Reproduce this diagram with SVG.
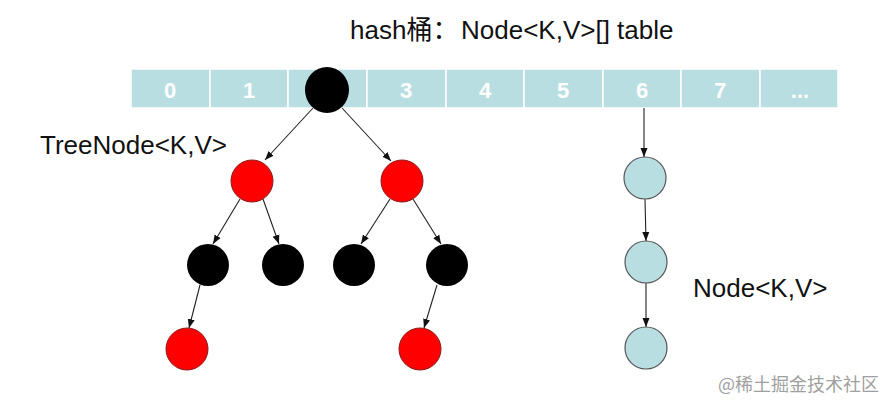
<svg xmlns="http://www.w3.org/2000/svg" width="893" height="409" viewBox="0 0 893 409">
<style>
.cell{fill:#b9dee2;stroke:#ffffff;stroke-width:1.5}
.num{font-family:"Liberation Sans",Arial,sans-serif;font-weight:bold;font-size:22px;fill:#ffffff;text-anchor:middle}
.lbl{font-family:"Liberation Sans","Noto Sans CJK SC",Arial,sans-serif;font-size:26px;fill:#111}
.red{fill:#ff0000;stroke:#8a1a1a;stroke-width:1}
.blk{fill:#000000}
.blu{fill:#b9dee2;stroke:#555;stroke-width:1.2}
.edge{stroke:#222;stroke-width:1.1;fill:none;marker-end:url(#ah)}
</style>
<defs>
<marker id="ah" markerWidth="10" markerHeight="10" refX="9" refY="5" orient="auto" markerUnits="userSpaceOnUse">
<path d="M0,1.5 L9,5 L0,8.5 Z" fill="#111"/>
</marker>
</defs>
<rect width="893" height="409" fill="#ffffff"/>
<text class="lbl" x="350" y="39"><tspan>hash桶：</tspan><tspan x="461">Node&lt;K,V&gt;[] table</tspan></text>
<g id="table">
<rect class="cell" x="131" y="69" width="79" height="39"/>
<rect class="cell" x="210" y="69" width="78" height="39"/>
<rect class="cell" x="288" y="69" width="79" height="39"/>
<rect class="cell" x="367" y="69" width="79" height="39"/>
<rect class="cell" x="446" y="69" width="78" height="39"/>
<rect class="cell" x="524" y="69" width="79" height="39"/>
<rect class="cell" x="603" y="69" width="78" height="39"/>
<rect class="cell" x="681" y="69" width="79" height="39"/>
<rect class="cell" x="760" y="69" width="78" height="39"/>
<text class="num" x="170" y="98">0</text>
<text class="num" x="249" y="98">1</text>
<text class="num" x="406" y="98">3</text>
<text class="num" x="485" y="98">4</text>
<text class="num" x="563" y="98">5</text>
<text class="num" x="642" y="98">6</text>
<text class="num" x="720" y="98">7</text>
<text class="num" x="800" y="98">...</text>
</g>
<text class="lbl" x="40" y="154">TreeNode&lt;K,V&gt;</text>
<text class="lbl" x="693" y="297">Node&lt;K,V&gt;</text>
<g id="connectors">
<line class="edge" x1="313" y1="108" x2="265" y2="160"/>
<line class="edge" x1="342" y1="108" x2="391" y2="161"/>
<line class="edge" x1="240" y1="199" x2="213" y2="244"/>
<line class="edge" x1="263" y1="199" x2="279" y2="244"/>
<line class="edge" x1="390" y1="199" x2="361" y2="244"/>
<line class="edge" x1="413" y1="199" x2="441" y2="244"/>
<line class="edge" x1="200" y1="285" x2="189" y2="328"/>
<line class="edge" x1="437" y1="285" x2="424" y2="328"/>
<line class="edge" x1="644" y1="108" x2="644" y2="157"/>
<line class="edge" x1="645" y1="199" x2="646" y2="241"/>
<line class="edge" x1="646" y1="283" x2="646" y2="327"/>
</g>
<g id="root"><ellipse class="blk" cx="327" cy="90" rx="22" ry="23"/></g>
<g id="r1"><circle class="red" cx="252" cy="181" r="21"/></g>
<g id="r2"><circle class="red" cx="402" cy="181" r="21"/></g>
<g id="b1"><circle class="blk" cx="208" cy="265" r="21"/></g>
<g id="b2"><circle class="blk" cx="283" cy="265" r="21"/></g>
<g id="b3"><circle class="blk" cx="354" cy="265" r="21"/></g>
<g id="b4"><circle class="blk" cx="447" cy="265" r="21"/></g>
<g id="r3"><circle class="red" cx="187" cy="349" r="21"/></g>
<g id="r4"><circle class="red" cx="420" cy="349" r="21"/></g>
<g id="n1"><circle class="blu" cx="645" cy="178" r="21"/></g>
<g id="n2"><circle class="blu" cx="646" cy="262" r="21"/></g>
<g id="n3"><circle class="blu" cx="646" cy="348" r="21"/></g>
<text x="718" y="391" font-family="'Noto Sans CJK SC',sans-serif" font-size="18" fill="#a0a0a0">@稀土掘金技术社区</text>
</svg>
